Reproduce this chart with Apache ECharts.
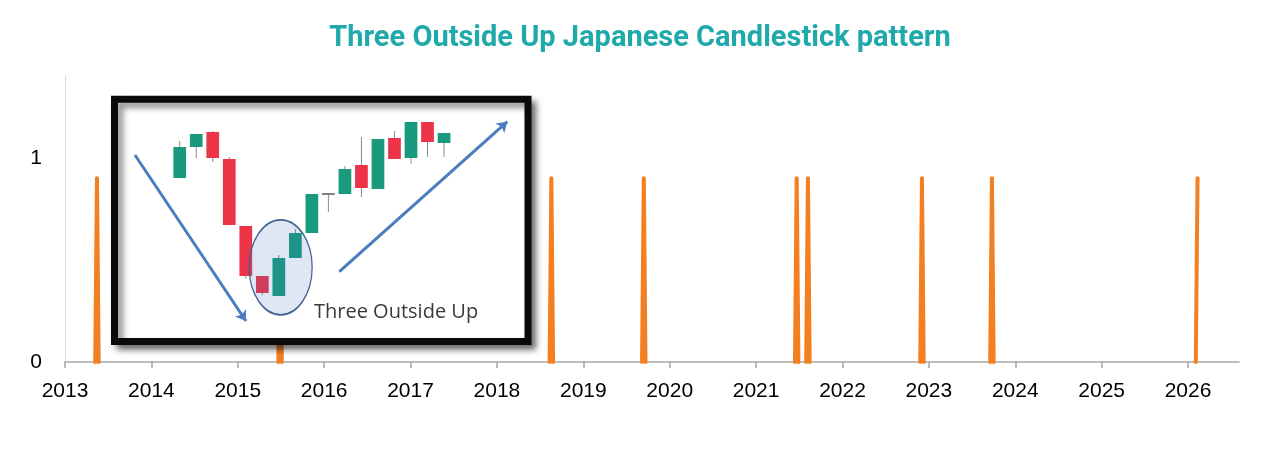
<!doctype html>
<html lang="en">
<head>
    <meta charset="UTF-8">
    <title>Three Outside Up</title>
    <style>
        html, body { margin: 0; padding: 0; background: #fff; }
        #main { width: 1280px; height: 451px; }
    </style>
    <script src="https://cdn.jsdelivr.net/npm/echarts@6/dist/echarts.min.js"></script>
</head>
<body>
<div id="main"></div>
<script>
    // signal series: weekly samples, 0.9 on the week the pattern appears
    var signalSeries = [
        [2013.35, 0], [2013.37, 0.9], [2013.39, 0], [2013.40, '-'],
        [2015.47, 0], [2015.49, 0.9], [2015.51, 0], [2015.52, '-'],
        [2018.61, 0], [2018.63, 0.9], [2018.65, 0], [2018.66, '-'],
        [2019.68, 0], [2019.70, 0.9], [2019.72, 0], [2019.73, '-'],
        [2021.45, 0], [2021.47, 0.9], [2021.49, 0], [2021.50, '-'],
        [2021.58, 0], [2021.60, 0.9], [2021.62, 0], [2021.63, '-'],
        [2022.90, 0], [2022.92, 0.9], [2022.94, 0], [2022.95, '-'],
        [2023.71, 0], [2023.73, 0.9], [2023.75, 0], [2023.76, '-'],
        [2026.09, 0], [2026.11, 0.9]
    ];
    var yearTicks = [2013, 2014, 2015, 2016, 2017, 2018, 2019, 2020, 2021, 2022, 2023, 2024, 2025, 2026];
    var valueTicks = [0, 1];

    // inset illustration: candles (open, close, low, high)
    var candleOpen  = [122, 153, 168, 141, 74, 24, 4, 42, 67, 106, 106, 135, 111, 162, 142, 178, 157];
    var candleClose = [153, 166, 142, 75, 24, 7, 42, 67, 106, 106, 131, 112, 161, 141, 178, 158, 167];
    var candleLow   = [122, 142, 138, 75, 21, 5, 4, 42, 67, 88, 106, 103, 111, 141, 136, 143, 143];
    var candleHigh  = [159, 166, 169, 143, 74, 24, 45, 71, 106, 106, 134, 163, 161, 169, 178, 178, 167];
    var trendArrows = [
        [[-2.71, 145], [4.01, -21]],
        [[9.66, 28.3], [19.83, 178.3]]
    ];
    var patternCenter = [6.11, 32.7];

    var candles = [];
    for (var i = 0; i < candleOpen.length; i++) {
        candles.push([i, candleOpen[i], candleClose[i], candleLow[i], candleHigh[i]]);
    }

    function renderCandle(params, api) {
        var x = api.value(0), o = api.value(1), c = api.value(2), l = api.value(3), h = api.value(4);
        var pHigh = api.coord([x, h]);
        var pLow = api.coord([x, l]);
        var pOpen = api.coord([x, o]);
        var pClose = api.coord([x, c]);
        var w = api.size([1, 0])[0] * 0.77;
        var top = Math.min(pOpen[1], pClose[1]);
        var hgt = Math.abs(pOpen[1] - pClose[1]);
        var fill = c > o ? '#199a7e' : (c < o ? '#ec3347' : '#555');
        return {
            type: 'group',
            children: [
                {
                    type: 'line',
                    shape: {x1: pHigh[0], y1: pHigh[1], x2: pLow[0], y2: pLow[1]},
                    style: {stroke: '#8c8c8c', lineWidth: 1}
                },
                {
                    type: 'rect',
                    shape: {x: pOpen[0] - w / 2, y: top - (hgt < 1.5 ? 0.75 : 0), width: w, height: Math.max(hgt, 1.5)},
                    style: {fill: fill}
                }
            ]
        };
    }

    var myChart = echarts.init(document.getElementById('main'));
    myChart.setOption({
        animation: false,
        backgroundColor: '#fff',
        title: {
            text: 'Three Outside Up Japanese Candlestick pattern',
            left: 'center',
            top: 19,
            textStyle: {
                fontFamily: 'Roboto',
                fontWeight: 'bold',
                fontSize: 29,
                color: '#1fa9ab'
            }
        },
        grid: [
            {left: 65, right: 41, top: 76, bottom: 89},
            {left: 121.9, top: 100, width: 413, height: 240}
        ],
        xAxis: [
            {
                type: 'value',
                min: 2013,
                max: 2026.59,
                interval: 1,
                gridIndex: 0,
                splitLine: {show: false},
                axisLine: {lineStyle: {color: '#a6a6a6', width: 1.5}},
                axisTick: {show: true, length: 6, customValues: yearTicks, lineStyle: {color: '#a6a6a6', width: 1.5}},
                axisLabel: {
                    customValues: yearTicks,
                    formatter: function (v) { return String(v); },
                    fontFamily: 'Liberation Sans',
                    fontSize: 21,
                    color: '#000',
                    margin: 19
                }
            },
            {
                type: 'value', gridIndex: 1, min: -3.5, max: 21.5, show: false
            }
        ],
        yAxis: [
            {
                type: 'value',
                min: 0,
                max: 1.4,
                interval: 1,
                gridIndex: 0,
                splitLine: {show: false},
                axisLine: {show: true, lineStyle: {color: '#d9d9d9', width: 1}},
                axisTick: {show: false},
                axisLabel: {
                    customValues: valueTicks,
                    fontFamily: 'Liberation Sans',
                    fontSize: 21,
                    color: '#000',
                    margin: 23
                }
            },
            {
                type: 'value', gridIndex: 1, min: -40, max: 200, show: false
            }
        ],
        graphic: {
            elements: [
                {
                    type: 'rect',
                    z: 10,
                    shape: {x: 114.5, y: 99.2, width: 413.5, height: 242.3},
                    style: {
                        fill: '#fff',
                        stroke: '#0a0a0a',
                        lineWidth: 7,
                        shadowBlur: 6,
                        shadowOffsetX: 5,
                        shadowOffsetY: 5,
                        shadowColor: 'rgba(0,0,0,0.45)'
                    }
                },
                {
                    type: 'text',
                    z: 30,
                    left: 314,
                    top: 302,
                    style: {
                        text: 'Three Outside Up',
                        fontFamily: 'Open Sans',
                        fontSize: 20,
                        fill: '#3a3a3a'
                    }
                }
            ]
        },
        series: [
            {
                name: 'Three Outside Up',
                type: 'line',
                xAxisIndex: 0,
                yAxisIndex: 0,
                data: signalSeries,
                showSymbol: false,
                connectNulls: false,
                z: 2,
                lineStyle: {color: '#f37f21', width: 4, join: 'round', cap: 'round'}
            },
            {
                type: 'custom',
                xAxisIndex: 1,
                yAxisIndex: 1,
                z: 20,
                silent: true,
                renderItem: renderCandle,
                encode: {x: 0, y: [1, 2, 3, 4]},
                data: candles
            },
            {
                type: 'scatter',
                xAxisIndex: 1,
                yAxisIndex: 1,
                z: 21,
                silent: true,
                symbol: 'circle',
                symbolSize: [63, 95],
                itemStyle: {color: 'rgba(68,114,196,0.17)', borderColor: '#41628f', borderWidth: 1.5, opacity: 1},
                data: [patternCenter]
            },
            {
                type: 'lines',
                coordinateSystem: 'cartesian2d',
                xAxisIndex: 1,
                yAxisIndex: 1,
                z: 22,
                silent: true,
                symbol: ['none', 'arrow'],
                symbolSize: 10,
                lineStyle: {color: '#4a7dbf', width: 3, opacity: 1},
                data: trendArrows.map(function (a) { return {coords: a}; })
            }
        ]
    });
</script>
</body>
</html>
